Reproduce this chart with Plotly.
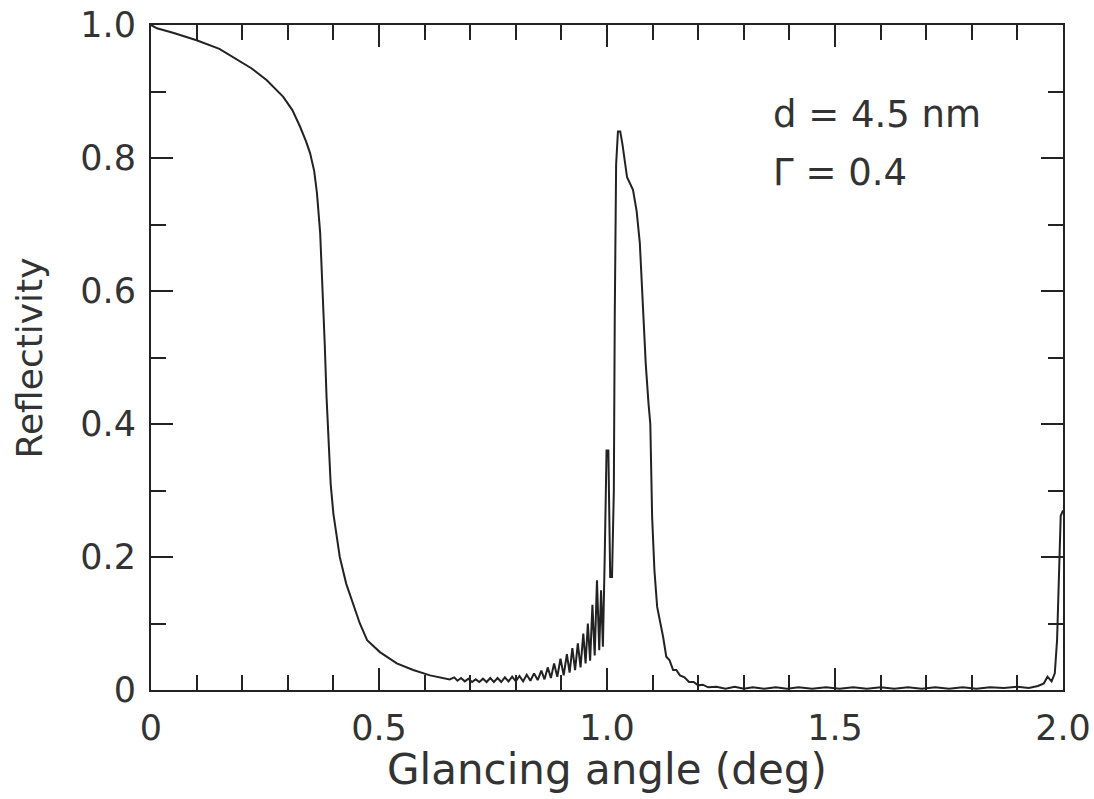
import plotly.graph_objects as go

# glancing angle (deg) and reflectivity
angle = [
    0.000, 0.013, 0.050, 0.100, 0.150, 0.180, 0.220, 0.254, 0.290, 0.310,
    0.327, 0.340, 0.349, 0.358, 0.364, 0.371, 0.377, 0.381, 0.385, 0.389,
    0.394, 0.400, 0.407, 0.414, 0.428, 0.443, 0.458, 0.474, 0.502, 0.539,
    0.575, 0.612, 0.640, 0.655,
    0.665, 0.672, 0.680, 0.688, 0.696, 0.704, 0.712, 0.720, 0.728, 0.736,
    0.744, 0.752, 0.760, 0.768, 0.776, 0.784, 0.792, 0.800, 0.808, 0.816,
    0.824, 0.832, 0.840, 0.848, 0.856, 0.863, 0.870, 0.877, 0.884, 0.891,
    0.898, 0.905, 0.912, 0.918, 0.924, 0.930, 0.936, 0.942, 0.948, 0.953,
    0.958, 0.963, 0.968, 0.973, 0.978, 0.983, 0.987, 0.991, 0.995, 0.999,
    1.003, 1.007, 1.011, 1.015, 1.017, 1.020, 1.024, 1.029, 1.034, 1.044,
    1.057, 1.065, 1.072, 1.079, 1.085, 1.091, 1.095, 1.099, 1.104, 1.110,
    1.116, 1.123, 1.130, 1.137, 1.145, 1.152, 1.160, 1.170, 1.180, 1.190,
    1.200, 1.210, 1.222, 1.240, 1.260, 1.280, 1.300, 1.320, 1.345, 1.370,
    1.395, 1.420, 1.450, 1.480, 1.510, 1.540, 1.570, 1.600, 1.630, 1.660,
    1.690, 1.720, 1.750, 1.780, 1.810, 1.840, 1.870, 1.900, 1.925, 1.945,
    1.958, 1.966, 1.975, 1.982, 1.987, 1.991, 1.995, 2.000,
]
reflectivity = [
    1.000, 0.995, 0.988, 0.977, 0.964, 0.952, 0.935, 0.917, 0.892, 0.872,
    0.847, 0.825, 0.807, 0.780, 0.747, 0.687, 0.597, 0.520, 0.440, 0.370,
    0.310, 0.265, 0.230, 0.200, 0.160, 0.131, 0.100, 0.075, 0.057, 0.040,
    0.030, 0.022, 0.018, 0.016,
    0.019, 0.014, 0.018, 0.013, 0.017, 0.012, 0.016, 0.012, 0.017, 0.012,
    0.018, 0.012, 0.018, 0.012, 0.019, 0.013, 0.020, 0.013, 0.021, 0.013,
    0.023, 0.014, 0.025, 0.015, 0.029, 0.016, 0.034, 0.018, 0.040, 0.020,
    0.047, 0.022, 0.054, 0.026, 0.063, 0.030, 0.070, 0.034, 0.085, 0.040,
    0.100, 0.044, 0.128, 0.052, 0.165, 0.060, 0.150, 0.065, 0.200, 0.360,
    0.360, 0.170, 0.170, 0.300, 0.560, 0.790, 0.840, 0.840, 0.820, 0.771,
    0.752, 0.720, 0.672, 0.571, 0.490, 0.431, 0.400, 0.260, 0.180, 0.125,
    0.105, 0.080, 0.050, 0.045, 0.030, 0.030, 0.022, 0.019, 0.012, 0.012,
    0.007, 0.008, 0.004, 0.005, 0.002, 0.005, 0.002, 0.004, 0.002, 0.004,
    0.002, 0.004, 0.002, 0.004, 0.002, 0.004, 0.002, 0.004, 0.002, 0.004,
    0.002, 0.004, 0.002, 0.004, 0.002, 0.004, 0.003, 0.005, 0.003, 0.006,
    0.010, 0.020, 0.013, 0.025, 0.075, 0.160, 0.262, 0.270,
]

x_tickvals = [0, 0.5, 1.0, 1.5, 2.0]
x_ticktext = ["0", "0.5", "1.0", "1.5", "2.0"]
y_tickvals = [0, 0.2, 0.4, 0.6, 0.8, 1.0]
y_ticktext = ["0", "0.2", "0.4", "0.6", "0.8", "1.0"]

FONT = "DejaVu Sans"
INK = "#222222"
TEXT = "#333333"

fig = go.Figure()
fig.add_trace(
    go.Scatter(
        x=angle,
        y=reflectivity,
        mode="lines",
        line={"color": INK, "width": 2},
        showlegend=False,
        hoverinfo="skip",
    )
)

for label, yv in (("d = 4.5 nm", 0.865), ("Γ = 0.4", 0.778)):
    fig.add_annotation(
        x=1.36, y=yv, xref="x", yref="y",
        text=label, showarrow=False, xanchor="left", yanchor="middle",
        font=dict(family=FONT, size=37, color=TEXT),
    )

# axis titles placed by hand so the plot box stays fixed
fig.add_annotation(
    x=0.5, y=-0.120, xref="paper", yref="paper", showarrow=False,
    text="Glancing angle (deg)", xanchor="center", yanchor="middle",
    font=dict(family=FONT, size=42, color=TEXT),
)
fig.add_annotation(
    x=-0.1327, y=0.5, xref="paper", yref="paper", showarrow=False,
    text="Reflectivity", textangle=-90, xanchor="center", yanchor="middle",
    font=dict(family=FONT, size=36, color=TEXT),
)

axis_common = dict(
    showline=True,
    linecolor=INK,
    linewidth=2,
    mirror="allticks",
    ticks="inside",
    tickcolor=INK,
    tickwidth=2,
    ticklen=22,
    showgrid=False,
    zeroline=False,
    automargin=False,
    ticklabeloverflow="allow",
    tickfont=dict(family=FONT, size=35, color=TEXT),
    minor=dict(dtick=0.1, tick0=0, ticks="inside", ticklen=15, tickwidth=2, tickcolor=INK),
)

fig.update_xaxes(
    range=[0, 2.0],
    tickvals=x_tickvals,
    ticktext=x_ticktext,
    ticklabelstandoff=6,
    **axis_common,
)
fig.update_yaxes(
    range=[0, 1.0],
    tickvals=y_tickvals,
    ticktext=y_ticktext,
    ticklabelstandoff=6,
    **axis_common,
)

fig.update_layout(
    width=1094,
    height=799,
    autosize=False,
    margin=dict(l=151, r=31, t=25, b=109),
    plot_bgcolor="white",
    paper_bgcolor="white",
    showlegend=False,
)

# drop the default body margin so the figure fills the window exactly
fig.write_html(
    "out.html",
    config={"displayModeBar": False},
    post_script="document.body.style.margin='0'; document.body.style.overflow='hidden';",
)
